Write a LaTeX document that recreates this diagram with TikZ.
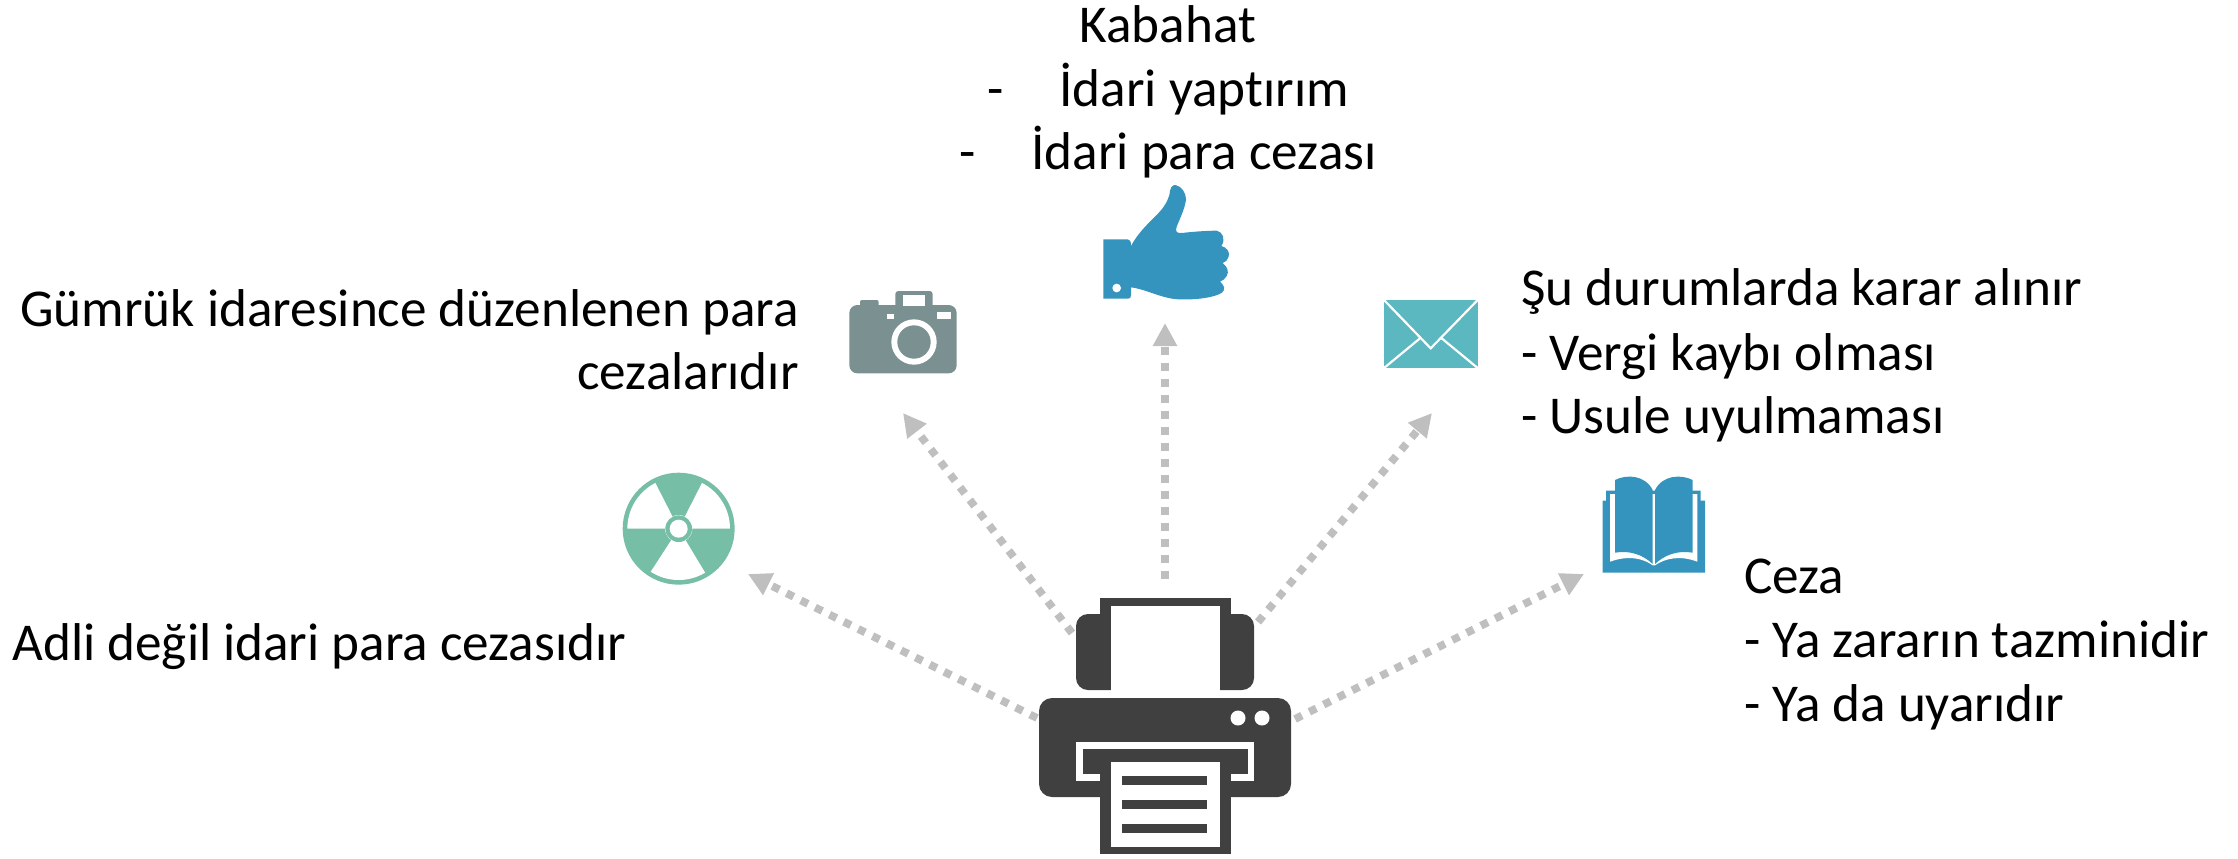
\documentclass[tikz,border=0pt]{standalone}
\usepackage{fontspec}
\setmainfont[Ligatures=NoCommon]{Carlito}
\usetikzlibrary{arrows.meta}
\definecolor{dark}{HTML}{404040}
\definecolor{flow}{HTML}{BFBFBF}
\definecolor{bluei}{HTML}{3594BD}
\definecolor{cami}{HTML}{7B9090}
\definecolor{radi}{HTML}{76BEA6}
\definecolor{envi}{HTML}{5BB7C0}
\tikzset{
  lbl/.style={font=\fontsize{26.6pt}{26.6pt}\selectfont,inner sep=0pt,text=black},
  flowline/.style={draw=flow,line width=3.9pt,dash pattern=on 3.9pt off 4.1pt,-{Triangle[length=11.5pt,width=11.5pt,fill=flow,sep=0pt]}},
}
\begin{document}
\begin{tikzpicture}[x=0.5pt,y=-0.5pt]
\useasboundingbox (0,0) rectangle (2238,858);
% named ends
\coordinate (a1s) at (1037,718); \coordinate (a1e) at (748,574);
\coordinate (a2s) at (1072,633); \coordinate (a2e) at (903,413);
\coordinate (a3s) at (1165,579); \coordinate (a3e) at (1165,323);
\coordinate (a4s) at (1258,622); \coordinate (a4e) at (1432,413);
\coordinate (a5s) at (1295,719); \coordinate (a5e) at (1584,574);
\draw[flowline] (a1s) -- (a1e);
\draw[flowline] (a2s) -- (a2e);
\draw[flowline] (a3s) -- (a3e);
\draw[flowline] (a4s) -- (a4e);
\draw[flowline] (a5s) -- (a5e);
% printer
\fill[dark,rounded corners=6pt] (1076,690) -- (1076,614) -- (1254,614) -- (1254,690) -- cycle;
\fill[dark] (1100,598) rectangle (1231,640);
\fill[white] (1111,606) rectangle (1220,692);
\fill[dark,rounded corners=6.5pt] (1039,698) rectangle (1291,797);
\fill[white] (1238,718) circle[radius=7.5];
\fill[white] (1262,718) circle[radius=7.5];
\fill[white] (1076,742) rectangle (1254,781);
\fill[dark] (1083,749) rectangle (1248,774);
\fill[dark] (1100,760) rectangle (1231,854);
\fill[white] (1111,762) rectangle (1220,847);
\fill[dark] (1122,776) rectangle (1207,785);
\fill[dark] (1122,800) rectangle (1207,809);
\fill[dark] (1122,824) rectangle (1207,833);
% thumb
\begin{scope}[shift={(1080,170)},x=0.16667pt,y=-0.16667pt]
\fill[bluei] (70,208) -- (143,208) .. controls (150,208) and (153,214) .. (153,228)
  .. controls (165,205) and (185,180) .. (205,160)
  .. controls (235,130) and (258,110) .. (268,75)
  .. controls (270,55) and (275,44) .. (287,45)
  .. controls (305,50) and (318,68) .. (318,88)
  .. controls (315,115) and (300,145) .. (290,170)
  .. controls (285,185) and (290,190) .. (305,189)
  .. controls (340,185) and (380,182) .. (410,182)
  .. controls (428,185) and (438,208) .. (424,228)
  .. controls (440,232) and (450,245) .. (446,260)
  .. controls (444,270) and (436,276) .. (428,279)
  .. controls (442,290) and (448,305) .. (440,318)
  .. controls (436,326) and (428,332) .. (420,335)
  .. controls (432,345) and (438,358) .. (426,368)
  .. controls (405,382) and (350,390) .. (300,388)
  .. controls (250,388) and (200,358) .. (153,352)
  -- (153,376) .. controls (153,384) and (150,386) .. (143,386) -- (70,386) -- cycle;
\fill[white] (110,354) circle[radius=13];
\end{scope}
% camera
\begin{scope}[shift={(830,270)},x=0.16667pt,y=-0.16667pt]
\fill[cami,rounded corners=4pt] (58,105) rectangle (380,310);
\fill[cami,rounded corners=1pt] (90,90) rectangle (146,115);
\fill[cami,rounded corners=1.5pt] (196,63) rectangle (308,115);
\fill[white] (220,75) rectangle (285,107);
\fill[white] (170,132) rectangle (193,148);
\fill[white] (320,127) rectangle (362,148);
\fill[white] (252,216) circle[radius=68];
\fill[cami] (252,216) circle[radius=50];
\end{scope}
% radiation
\begin{scope}[shift={(600,450)},x=0.16667pt,y=-0.16667pt]
\coordinate (rc) at (236,236);
\fill[radi] (rc) circle[radius=168];
\fill[white] (rc) -- ++(180:154) arc[start angle=180,end angle=243,radius=154] -- cycle;
\fill[white] (rc) -- ++(0:154) arc[start angle=0,end angle=-63,radius=154] -- cycle;
\fill[white] (rc) -- ++(59:154) arc[start angle=59,end angle=123,radius=154] -- cycle;
\fill[white] (rc) circle[radius=41];
\fill[radi] (rc) circle[radius=40];
\fill[white] (rc) circle[radius=27];
\end{scope}
% envelope
\begin{scope}[shift={(1370,280)},x=0.16667pt,y=-0.16667pt]
\fill[envi] (42,60) rectangle (323,265);
\draw[white,line width=1.1pt] (42,60) -- (182,205) -- (323,60);
\draw[white,line width=1.1pt] (42,264) -- (150,175);
\draw[white,line width=1.1pt] (323,264) -- (215,175);
\end{scope}
% book
\begin{scope}[shift={(1590,460)},x=0.16667pt,y=-0.16667pt]
\fill[bluei] (38,122) -- (48,122) -- (48,92) -- (75,92) -- (308,92) -- (332,92) -- (332,122) -- (345,122) -- (345,338) -- (38,338) -- cycle;
\fill[white] (60,102) -- (322,102) -- (322,305) .. controls (270,285) and (225,295) .. (195,316) -- (188,316) .. controls (160,295) and (115,285) .. (60,305) -- cycle;
\fill[bluei] (75,60) .. controls (110,42) and (165,45) .. (188,90) -- (188,312) .. controls (160,285) and (120,270) .. (75,278) -- cycle;
\fill[bluei] (308,60) .. controls (273,42) and (218,45) .. (195,90) -- (195,312) .. controls (223,285) and (263,270) .. (308,278) -- cycle;
\end{scope}
% text
\node[lbl,anchor=base west] (k0) at (1079,42) {Kabahat};
\node[lbl,anchor=base west] (k1a) at (987,106) {-};
\node[lbl,anchor=base west] (k1) at (1059,106) {İdari yaptırım};
\node[lbl,anchor=base west] (k2a) at (959,169) {-};
\node[lbl,anchor=base west] (k2) at (1031,169) {İdari para cezası};
\node[lbl,anchor=base east] (g1) at (799,326) {Gümrük idaresince düzenlenen para};
\node[lbl,anchor=base east] (g2) at (799,389) {cezalarıdır};
\node[lbl,anchor=base west] (ad) at (12,660) {Adli değil idari para cezasıdır};
\node[lbl,anchor=base west] (s1) at (1521,305) {Şu durumlarda karar alınır};
\node[lbl,anchor=base west] (s2) at (1521,370) {- Vergi kaybı olması};
\node[lbl,anchor=base west] (s3) at (1521,433) {- Usule uyulmaması};
\node[lbl,anchor=base west] (c1) at (1744,593) {Ceza};
\node[lbl,anchor=base west] (c2) at (1744,657) {- Ya zararın tazminidir};
\node[lbl,anchor=base west] (c3) at (1744,721) {- Ya da uyarıdır};
\end{tikzpicture}
\end{document}
